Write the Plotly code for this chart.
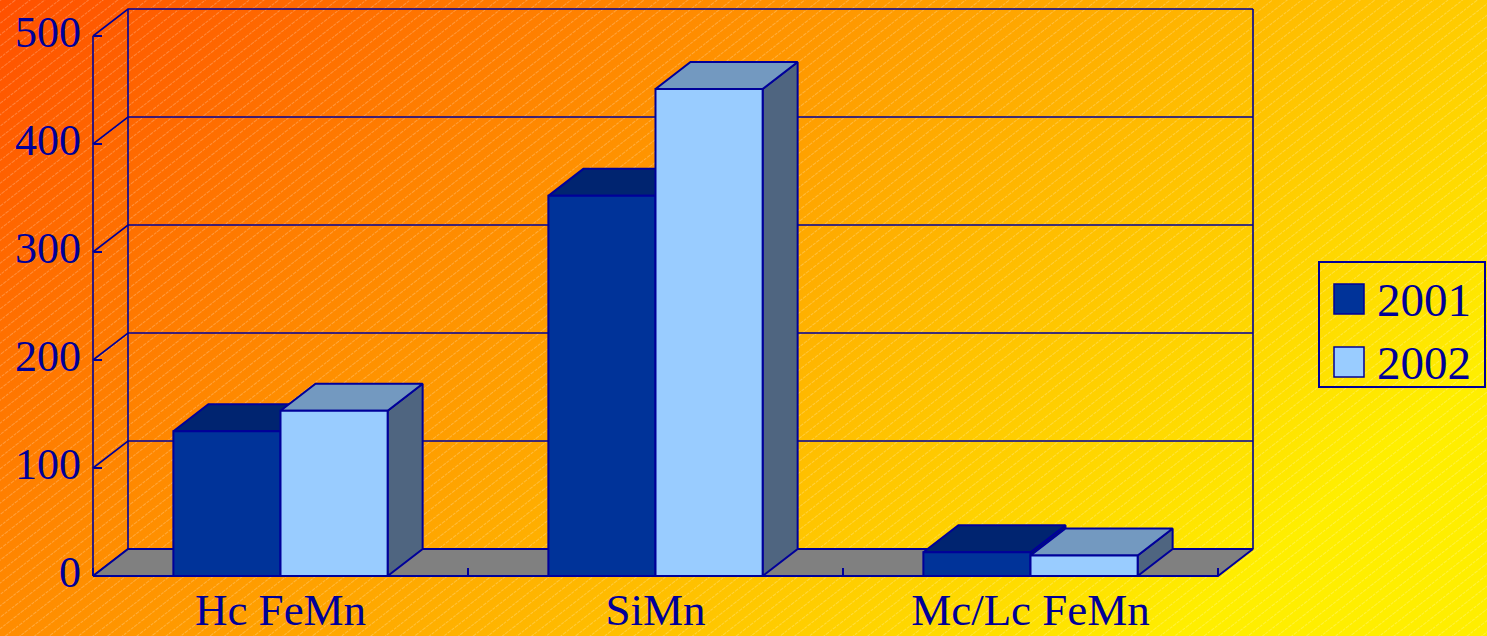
import base64
import plotly.graph_objects as go

# ---------------- data ----------------
categories = ["Hc FeMn", "SiMn", "Mc/Lc FeMn"]
series_names = ["2001", "2002"]
values_2001 = [134, 352, 22]
values_2002 = [153, 451, 19]
y_tick_values = [0, 100, 200, 300, 400, 500]
y_tick_labels = ["0", "100", "200", "300", "400", "500"]

# ---------------- styling ----------------
W, H = 1487, 636
FRONT = ["#003399", "#99CCFF"]
TOP = ["#002470", "#7399C0"]
SIDE = ["#001F5C", "#4F6580"]
EDGE = "#000099"
FLOOR = "#808080"
FONT = "Liberation Serif"

# pixel geometry of the plotting region
PL, PR, PT, PB = 85, 1265, 2, 584       # domain box (pixels)
AX_X, AX_Y = 93, 576                   # front axes origin (pixels)
PX_PER_CAT = 375.0
PX_PER_UNIT = 1.08
DEPTH_PX = (35, 27)

N = len(categories)
DX = DEPTH_PX[0] / PX_PER_CAT
DY = DEPTH_PX[1] / PX_PER_UNIT
GAP = 1.5                              # gap width (fraction of bar width)
BW = 1.0 / (len(series_names) + GAP)

x_range = [(PL - AX_X) / PX_PER_CAT, (PR - AX_X) / PX_PER_CAT]
y_range = [(AX_Y - PB) / PX_PER_UNIT, (AX_Y - PT) / PX_PER_UNIT]
PW, PH = PR - PL, PB - PT


def px(xp):
    return (xp - PL) / PW


def py(yp):
    return (PB - yp) / PH


fig = go.Figure()


def poly(xs, ys, fill, name=None, width=2, hover=None):
    fig.add_trace(go.Scatter(
        x=xs, y=ys, mode="lines", fill="toself" if fill else None,
        fillcolor=fill, line=dict(color=EDGE, width=width),
        showlegend=False, name=name or "",
        hoverinfo="skip" if hover is None else "text", text=hover,
    ))


# ---- walls & gridlines ----
ymax = y_tick_values[-1]
wx, wy = [], []
for v in y_tick_values:
    wx += [0, DX, N + DX, None]
    wy += [v, v + DY, v + DY, None]
wx += [0, 0, None, DX, DX, None, N + DX, N + DX, None]
wy += [0, ymax, None, DY, ymax + DY, None, DY, ymax + DY, None]
fig.add_trace(go.Scatter(x=wx, y=wy, mode="lines",
                         line=dict(color=EDGE, width=1.6),
                         hoverinfo="skip", showlegend=False))

# ---- floor ----
poly([0, N, N + DX, DX, 0], [0, 0, DY, DY, 0], FLOOR)

# ---- bars ----
series_values = [values_2001, values_2002]
for i in range(N):
    for s, vals in enumerate(series_values):
        v = vals[i]
        x0 = i + GAP * BW / 2 + s * BW
        x1 = x0 + BW
        poly([x1, x1 + DX, x1 + DX, x1, x1], [0, DY, v + DY, v, 0], SIDE[s])
        poly([x0, x1, x1 + DX, x0 + DX, x0], [v, v, v + DY, v + DY, v], TOP[s])
        poly([x0, x1, x1, x0, x0], [0, 0, v, v, 0], FRONT[s],
             name=series_names[s],
             hover=f"{categories[i]} {series_names[s]}: {v}")

# ---- background (gradient + fine stripes) ----
svg = f'''<svg xmlns="http://www.w3.org/2000/svg" width="{W}" height="{H}" viewBox="0 0 {W} {H}">
<defs>
<linearGradient id="g" gradientUnits="userSpaceOnUse" x1="0" y1="0" x2="827" y2="942">
<stop offset="0" stop-color="#FF5000"/><stop offset="1" stop-color="#FFEE00"/>
</linearGradient>
<pattern id="p" width="9" height="9" patternUnits="userSpaceOnUse" patternTransform="rotate(-38)">
<line x1="0" y1="0.5" x2="9" y2="0.5" stroke="#FFFFFF" stroke-width="1" stroke-opacity="0.24" stroke-dasharray="3 1"/>
</pattern>
</defs>
<rect x="0" y="0" width="{W}" height="{H}" fill="url(#g)"/>
<rect x="0" y="0" width="{W}" height="{H}" fill="url(#p)"/>
</svg>'''
src = "data:image/svg+xml;base64," + base64.b64encode(svg.encode()).decode()

# ---- legend (drawn manually to match the boxed Excel legend) ----
shapes = [dict(type="rect", xref="paper", yref="paper",
               x0=px(1319), x1=px(1485), y0=py(387), y1=py(262),
               line=dict(color=EDGE, width=2), fillcolor="rgba(0,0,0,0)")]
annotations = []
for s, name in enumerate(series_names):
    cy = 299 + s * 63
    shapes.append(dict(type="rect", xref="paper", yref="paper",
                       x0=px(1334), x1=px(1364), y0=py(cy + 15), y1=py(cy - 15),
                       line=dict(color=EDGE, width=1.5), fillcolor=FRONT[s]))
    annotations.append(dict(text=name, xref="paper", yref="paper",
                            x=px(1375), y=py(cy + 1), xanchor="left", yanchor="middle",
                            showarrow=False, font=dict(family=FONT, size=47, color=EDGE)))

fig.update_layout(
    width=W, height=H,
    margin=dict(l=PL, r=W - PR, t=PT, b=H - PB, pad=0, autoexpand=False),
    paper_bgcolor="#FFA500", plot_bgcolor="rgba(0,0,0,0)",
    showlegend=False,
    images=[dict(source=src, xref="paper", yref="paper",
                 x=px(0), y=py(0), sizex=W / PW, sizey=H / PH,
                 xanchor="left", yanchor="top", sizing="stretch", layer="below")],
    shapes=shapes, annotations=annotations,
    xaxis=dict(range=x_range, domain=[0, 1], anchor="free", position=py(AX_Y),
               automargin=False,
               showgrid=False, zeroline=False, showline=False,
               tickmode="array", tickvals=[i + 0.5 for i in range(N)], ticktext=categories,
               ticks="", tickfont=dict(family=FONT, size=45, color=EDGE),
               ticklabelstandoff=3,
               minor=dict(tickmode="array", tickvals=list(range(N + 1)), ticks="inside",
                          ticklen=8, tickwidth=2, tickcolor=EDGE, showgrid=False)),
    yaxis=dict(range=y_range, domain=[0, 1], anchor="free", position=px(AX_X),
               automargin=False,
               showgrid=False, zeroline=False, showline=False,
               tickmode="array", tickvals=y_tick_values, ticktext=y_tick_labels,
               ticks="inside", ticklen=8, tickwidth=2, tickcolor=EDGE,
               tickfont=dict(family=FONT, size=44, color=EDGE),
               ticklabelstandoff=12, ticklabelshift=-4),
    hovermode="closest",
)

fig.write_html("out.html")
